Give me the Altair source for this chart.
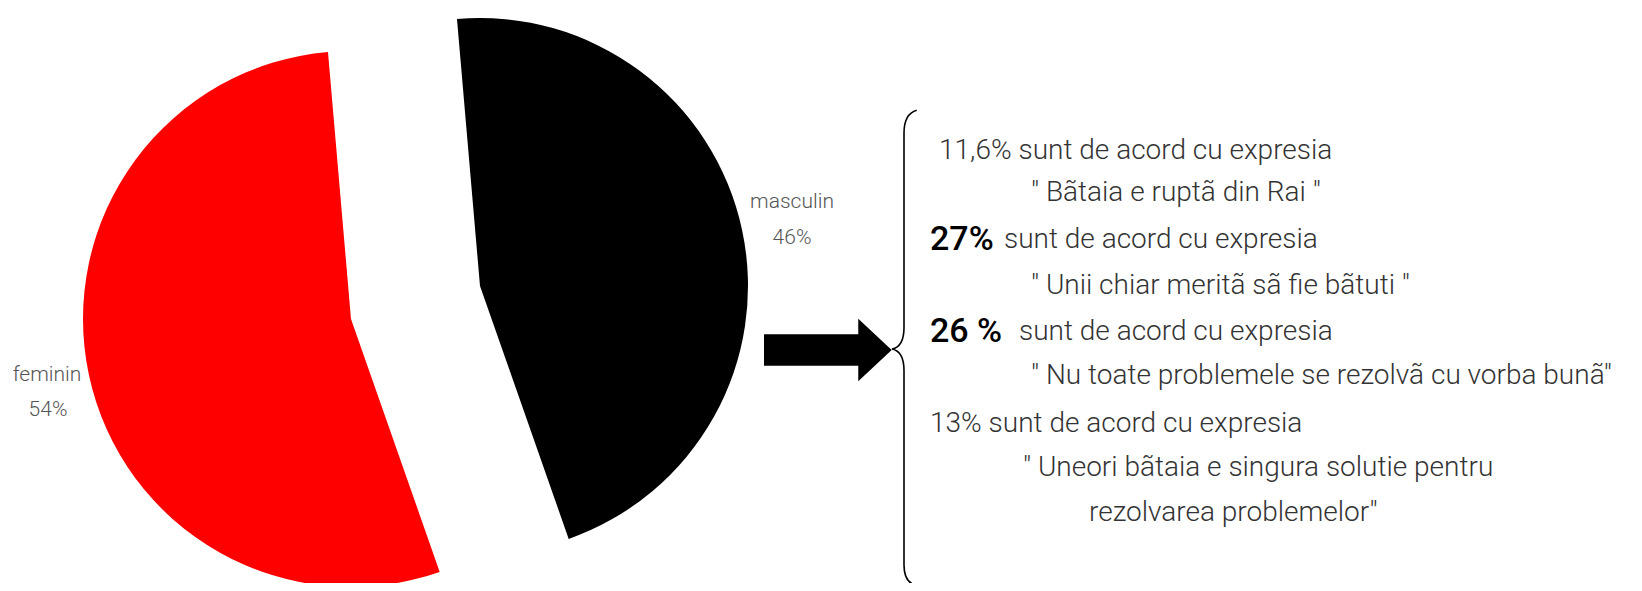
import altair as alt
import pandas as pd

# ---- data ----
genders = ["masculin", "feminin"]
shares = [46, 54]
slice_colors = ["#000000", "#ff0000"]

stat_pcts = ["11,6%", "27%", "26 %", "13%"]
stat_text = "sunt de acord cu expresia"
quotes = [
    "\" Bãtaia e ruptã din Rai \"",
    "\" Unii chiar meritã sã fie bãtuti \"",
    "\" Nu toate problemele se rezolvã cu vorba bunã\"",
    "\" Uneori bãtaia e singura solutie pentru",
    "rezolvarea problemelor\"",
]

FONT = "Roboto"
TXT = "#333333"
LBL = "#555555"

pie_df = pd.DataFrame({"gender": genders, "share": shares, "order": [0, 1]})

theta0 = 6.2832 - 0.086
base = (
    alt.Chart(pie_df)
    .transform_window(end="sum(share)", sort=[alt.SortField("order")])
    .transform_calculate(start="datum.end - datum.share")
)

color = alt.Color("gender:N", scale=alt.Scale(domain=genders, range=slice_colors), legend=None)
theta = alt.Theta("start:Q", stack=False, scale=alt.Scale(domain=[0, 100], range=[theta0, theta0 + 6.2832]))
theta2 = alt.Theta2("end:Q")

R = 268
black = base.transform_filter(alt.datum.gender == "masculin").mark_arc(radius=R).encode(
    theta=theta, theta2=theta2, color=color, x=alt.value(472), y=alt.value(278)
)
red = base.transform_filter(alt.datum.gender == "feminin").mark_arc(radius=R).encode(
    theta=theta, theta2=theta2, color=color, x=alt.value(343), y=alt.value(311)
)

def txt(s, x, y, size=28, color=TXT, weight=300, align="left"):
    return alt.Chart(pd.DataFrame({"t": [s]})).mark_text(
        font=FONT, fontSize=size, fontWeight=weight, color=color, align=align, baseline="middle"
    ).encode(text="t:N", x=alt.value(x), y=alt.value(y))

labels = [
    txt(genders[0], 784, 194, size=21, color=LBL, align="center"),
    txt(f"{shares[0]}%", 784, 230, size=21, color=LBL, align="center"),
    txt(genders[1], 39, 367, size=21, color=LBL, align="center"),
    txt(f"{shares[1]}%", 40, 402, size=21, color=LBL, align="center"),
]

block = [
    txt(f"{stat_pcts[0]} {stat_text}", 931, 143),
    txt(quotes[0], 1023, 185),
    txt(stat_pcts[1], 922, 232, size=34, color="#000000", weight=500),
    txt(stat_text, 996, 232),
    txt(quotes[1], 1023, 278),
    txt(stat_pcts[2], 922, 324, size=34, color="#000000", weight=500),
    txt(stat_text, 1011, 324),
    txt(quotes[2], 1023, 368),
    txt(f"{stat_pcts[3]} {stat_text}", 922, 416),
    txt(quotes[3], 1015, 460),
    txt(quotes[4], 1081, 505),
]

one = pd.DataFrame({"k": [0]})
arrow_path = "M -1 -0.245 L 0.473 -0.245 L 0.473 -0.49 L 0.995 0 L 0.473 0.49 L 0.473 0.245 L -1 0.245 Z"
arrow = alt.Chart(one).mark_point(
    shape=arrow_path, filled=True, fill="#000000", strokeWidth=0, opacity=1, size=16384
).encode(x=alt.value(820), y=alt.value(342))

brace_path = (
    "M 0.053 -0.995 Q 0 -0.98 0 -0.9 L 0 -0.09 Q 0 -0.01 -0.05 0 "
    "Q 0 0.01 0 0.09 L 0 0.9 Q 0 0.975 0.053 0.985"
)
brace = alt.Chart(one).mark_point(
    shape=brace_path, filled=False, stroke="#000000", strokeWidth=1.6, opacity=1, size=230400
).encode(x=alt.value(896), y=alt.value(341))

chart = alt.layer(black, red, arrow, brace, *labels, *block).properties(
    width=1626, height=575, padding=0,
    autosize=alt.AutoSizeParams(type="none"),
    background="white",
).configure_view(stroke=None)

chart.save("out.html", embed_options={"renderer": "svg", "actions": False})
